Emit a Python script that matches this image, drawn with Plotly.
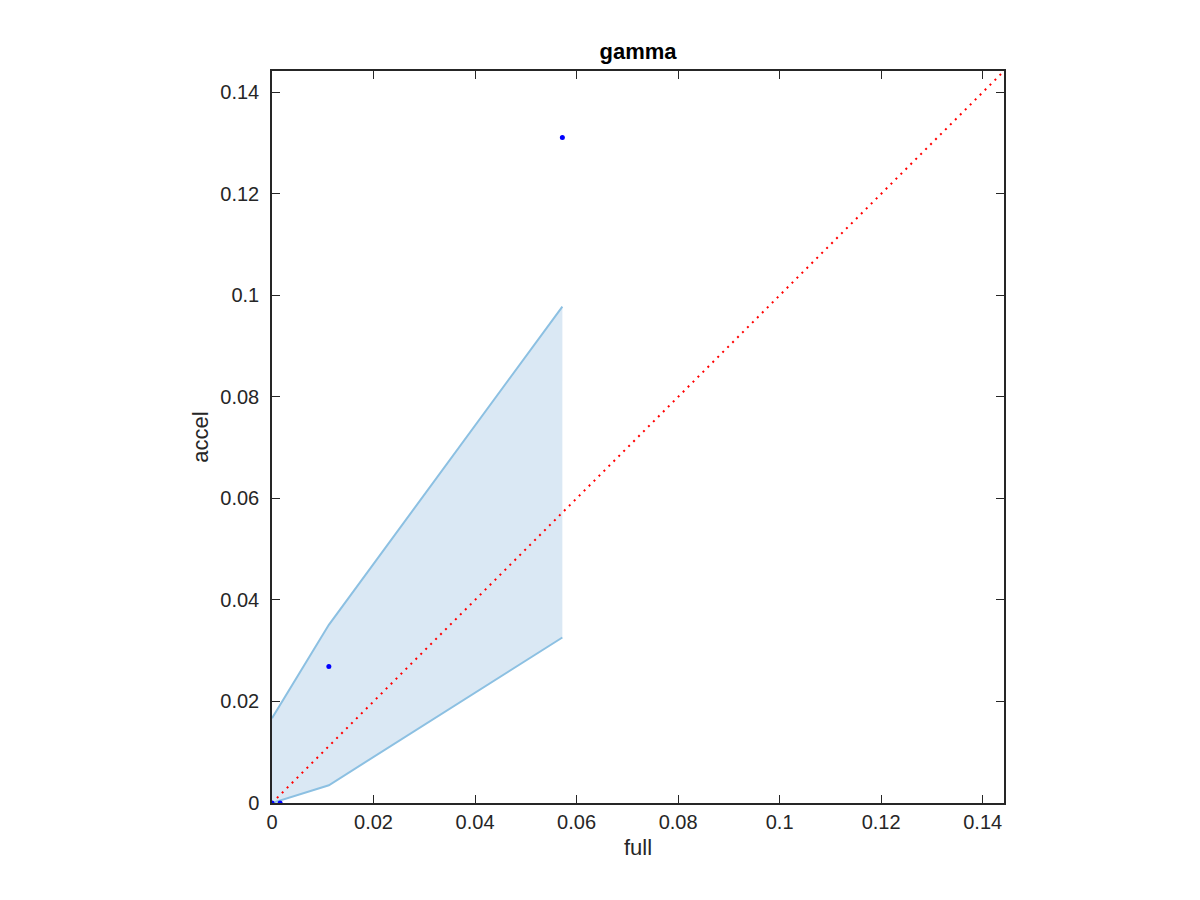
import plotly.graph_objects as go

# data
full_pts = [0.0, 0.0016, 0.0112, 0.0572]
accel_pts = [0.0, 0.0, 0.0269, 0.1311]

band_x = [0.0, 0.0112, 0.0572]
band_upper = [0.0167, 0.0351, 0.0978]
band_lower = [0.0, 0.0035, 0.0326]

lim = 0.1442
tick_vals = [0, 0.02, 0.04, 0.06, 0.08, 0.1, 0.12, 0.14]
tick_text = ["0", "0.02", "0.04", "0.06", "0.08", "0.1", "0.12", "0.14"]

FONT = "Liberation Sans, Arial, Helvetica"

fig = go.Figure()

# filled band (polygon)
poly_x = band_x + band_x[::-1] + [band_x[0]]
poly_y = band_upper + band_lower[::-1] + [band_upper[0]]
fig.add_trace(go.Scatter(x=poly_x, y=poly_y, mode="lines", fill="toself",
                         fillcolor="rgba(218,232,244,1)",
                         line=dict(width=0), hoverinfo="skip", showlegend=False))
fig.add_trace(go.Scatter(x=band_x, y=band_upper, mode="lines",
                         line=dict(color="#8cc0e2", width=2), showlegend=False))
fig.add_trace(go.Scatter(x=band_x, y=band_lower, mode="lines",
                         line=dict(color="#8cc0e2", width=2), showlegend=False))

# diagonal
fig.add_trace(go.Scatter(x=[0, lim], y=[0, lim], mode="lines",
                         line=dict(color="red", width=2, dash="2px,5px"), showlegend=False))

# points
fig.add_trace(go.Scatter(x=full_pts, y=accel_pts, mode="markers",
                         marker=dict(color="blue", size=5), showlegend=False))

axis_common = dict(range=[0, lim], tickvals=tick_vals, ticktext=tick_text,
                   ticks="inside", ticklen=8, tickwidth=1, tickcolor="#262626",
                   showline=True, linecolor="#262626", linewidth=1.5, mirror="ticks",
                   showgrid=False, zeroline=False,
                   tickfont=dict(family=FONT, size=20, color="#262626"))

fig.update_layout(
    width=1200, height=900,
    paper_bgcolor="white", plot_bgcolor="white",
    margin=dict(l=264, r=204, t=63, b=105),
    title=dict(text="<b>gamma</b>", xref="paper", x=0.5, xanchor="center",
               y=0.943, yanchor="bottom",
               font=dict(family=FONT, size=22, color="black")),
    xaxis=dict(title=dict(text="full", font=dict(family=FONT, size=22, color="#262626"),
                          standoff=8), **axis_common),
    yaxis=dict(title=dict(text="accel", font=dict(family=FONT, size=22, color="#262626"),
                          standoff=6), ticklabelstandoff=7, **axis_common),
)

fig.write_html("out.html")
